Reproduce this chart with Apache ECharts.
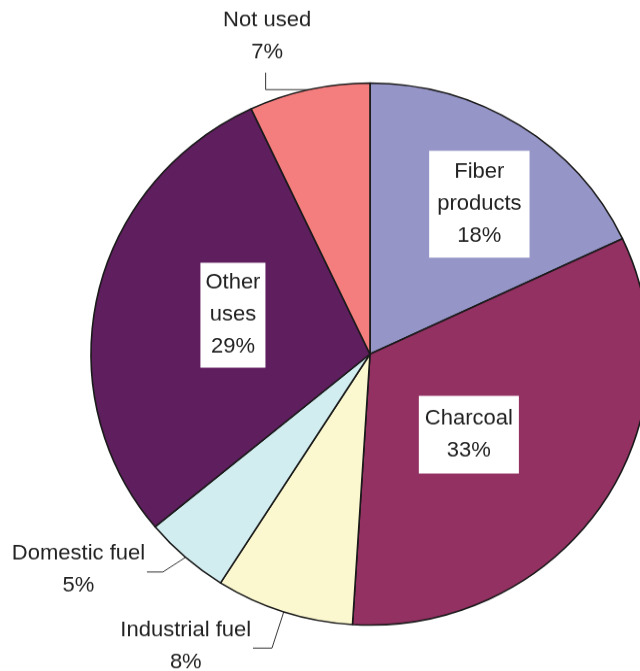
<!DOCTYPE html>
<html>
<head>
<meta charset="utf-8">
<script src="https://cdn.jsdelivr.net/npm/echarts@6/dist/echarts.min.js"></script>
<style>
html,body{margin:0;padding:0;background:#fff;overflow:hidden}
#wrap{width:640px;height:671px;overflow:hidden}
#c{width:640px;height:691px;transform:scaleY(0.9713);transform-origin:0 0}
</style>
</head>
<body>
<div id="wrap"><div id="c"></div></div>
<script>
const categories = ['Fiber products', 'Charcoal', 'Industrial fuel', 'Domestic fuel', 'Other uses', 'Not used'];
const labelNames = ['Fiber\nproducts', 'Charcoal', 'Industrial fuel', 'Domestic fuel', 'Other\nuses', 'Not used'];
const values = [18, 33, 8, 5, 29, 7];
const colors = ['#9595C8', '#933162', '#FBF8CF', '#D2EDF0', '#5F1E5E', '#F47E7E'];
const insideLabel = [true, true, false, false, true, false];
const insideOffsets = [[33, -34], [-19, 3], null, null, [2, -9], null];
const insidePadding = [[6, 8, 5, 8], [7, 6, 7, 6], null, null, [5, 5, 4, 5], null];

const chart = echarts.init(document.getElementById('c'), null, {renderer: 'canvas'});
const FONT = 'Liberation Sans, Arial, sans-serif';

const data = categories.map((name, i) => {
  const item = {
    name: name,
    value: values[i],
    itemStyle: {color: colors[i]}
  };
  if (insideLabel[i]) {
    item.label = {
      position: 'inside',
      backgroundColor: '#ffffff',
      padding: insidePadding[i],
      offset: insideOffsets[i]
    };
    item.labelLine = {show: false};
  } else {
    item.label = {position: 'outside'};
    item.labelLine = {show: true, length: 20, length2: 20, lineStyle: {color: '#333', width: 1}};
  }
  return item;
});

chart.setOption({
  animation: false,
  series: [{
    type: 'pie',
    center: [370, 364.5],
    radius: 279,
    startAngle: 90,
    clockwise: true,
    avoidLabelOverlap: false,
    itemStyle: {borderColor: '#1a1a1a', borderWidth: 1.6},
    emphasis: {disabled: true},
    label: {
      show: true,
      formatter: p => labelNames[p.dataIndex] + '\n' + p.value + '%',
      fontFamily: FONT,
      fontSize: 22,
      lineHeight: 33,
      color: '#222',
      align: 'center'
    },
    labelLayout: function (params) {
      const i = params.dataIndex;
      if (insideLabel[i] || !params.labelLinePoints) return {};
      const p0 = params.labelLinePoints[0];
      if (i === 5) { // Not used
        return {
          x: p0[0] - 42, y: p0[1] - 55, align: 'center', verticalAlign: 'middle',
          labelLinePoints: [p0, [p0[0] - 43.5, p0[1]], [p0[0] - 43.5, p0[1] - 17.5]]
        };
      }
      if (i === 3) { // Domestic fuel
        return {
          x: p0[0] - 107, y: p0[1] + 12.5, align: 'center', verticalAlign: 'middle',
          labelLinePoints: [p0, [p0[0] - 22.6, p0[1] + 15.1], [p0[0] - 38.6, p0[1] + 15.1]]
        };
      }
      if (i === 2) { // Industrial fuel
        return {
          x: p0[0] - 98, y: p0[1] + 35.5, align: 'center', verticalAlign: 'middle',
          labelLinePoints: [p0, [p0[0] - 11.8, p0[1] + 37.4], [p0[0] - 30.8, p0[1] + 37.4]]
        };
      }
      return {};
    },
    data: data
  }]
});
</script>
</body>
</html>
